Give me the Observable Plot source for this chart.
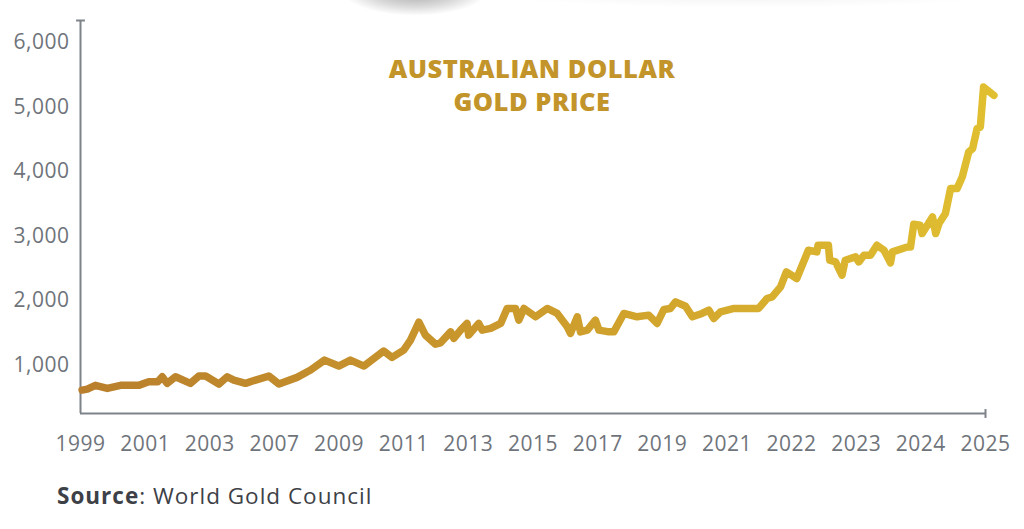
<!DOCTYPE html>
<html>
<head>
<meta charset="utf-8">
<script src="https://cdn.jsdelivr.net/npm/d3@7"></script>
<script src="https://cdn.jsdelivr.net/npm/@observablehq/plot@0.6"></script>
<style>
  body { margin: 0; background: #fff; }
  #wrap { position: relative; width: 1024px; height: 529px; overflow: hidden; font-family: "Open Sans", sans-serif; }
  #swoosh { position: absolute; left: 340px; top: -22px; width: 150px; height: 38px;
            background: radial-gradient(ellipse at 50% 30%, rgba(0,0,0,0.38), rgba(0,0,0,0.15) 45%, rgba(0,0,0,0) 70%); }
  #swoosh2 { position: absolute; left: 470px; top: -14px; width: 560px; height: 22px;
            background: radial-gradient(ellipse at 50% 20%, rgba(0,0,0,0.07), rgba(0,0,0,0) 70%); }
  #chart { position: absolute; left: 0; top: 0; }
  #caption { position: absolute; left: 57px; top: 480px; font-size: 22.5px; letter-spacing: 1px; color: #3d4147; white-space: nowrap; }
  #caption b { font-weight: 700; }
</style>
</head>
<body>
<div id="wrap">
  <div id="swoosh"></div>
  <div id="swoosh2"></div>
  <div id="chart"></div>
  <div id="caption"><b>Source</b>: World Gold Council</div>
</div>
<script>
// ---- data ----
const tickYears = [1999, 2001, 2003, 2007, 2009, 2011, 2013, 2015, 2017, 2019, 2021, 2022, 2023, 2024, 2025];
const yTicks = [1000, 2000, 3000, 4000, 5000, 6000];
const titleLines = ["AUSTRALIAN DOLLAR", "GOLD PRICE"];

const years = [
  1999.05,1999.21,1999.46,1999.83,2000.24,2000.80,2001.11,2001.39,2001.53,2001.68,
  2001.94,2002.40,2002.66,2002.87,2003.56,2004.08,2004.49,2005.21,2005.83,2006.65,
  2007.14,2007.70,2008.12,2008.55,2008.99,2009.35,2009.77,2010.38,2010.64,2011.00,
  2011.21,2011.47,2011.67,2011.98,2012.14,2012.45,2012.55,2012.76,2012.96,2013.01,
  2013.32,2013.43,2013.69,2014.00,2014.20,2014.46,2014.56,2014.72,2015.08,2015.44,
  2015.75,2016.06,2016.16,2016.37,2016.47,2016.68,2016.93,2017.04,2017.35,2017.50,
  2017.81,2018.22,2018.58,2018.84,2019.05,2019.25,2019.41,2019.72,2019.93,2020.23,
  2020.44,2020.59,2020.80,2021.11,2021.49,2021.62,2021.70,2021.83,2021.92,2022.08,
  2022.26,2022.39,2022.41,2022.57,2022.59,2022.68,2022.78,2022.83,2022.99,2023.04,
  2023.12,2023.22,2023.32,2023.43,2023.53,2023.56,2023.79,2023.84,2023.89,2023.99,
  2024.02,2024.18,2024.23,2024.28,2024.38,2024.46,2024.56,2024.64,2024.74,2024.80,
  2024.87,2024.92,2024.97,2025.13
];
const prices = [
  613,628,686,639,686,686,741,741,819,717,
  819,717,830,830,706,819,768,717,768,830,
  706,810,923,1077,985,1077,985,1217,1119,1232,
  1387,1666,1464,1325,1345,1515,1413,1542,1646,1464,
  1646,1542,1568,1646,1878,1878,1697,1878,1748,1878,
  1800,1593,1491,1748,1515,1542,1697,1542,1515,1515,
  1800,1748,1774,1646,1862,1878,1980,1913,1748,1800,
  1851,1723,1825,1878,1878,2032,2057,2212,2444,2342,
  2780,2754,2858,2858,2625,2599,2393,2625,2677,2599,
  2703,2703,2858,2780,2584,2754,2831,2831,3183,3167,
  3039,3296,3039,3194,3348,3735,3735,3915,4302,4354,
  4664,4689,5308,5180
];

// ---- build ----
const data = years.map((year, i) => ({year, price: prices[i]}));
// the axis labels are evenly spaced, so years map piecewise onto label slots
const yearToSlot = d3.scaleLinear().domain(tickYears).range(d3.range(tickYears.length));
const yMin = 250, yMax = 6340;
const axisColor = "#7e838a";

const hBar = {draw(ctx, size) { const r = Math.sqrt(size) / 2; ctx.moveTo(-r, 0); ctx.lineTo(r, 0); }};
const vBar = {draw(ctx, size) { const r = Math.sqrt(size) / 2; ctx.moveTo(0, -r); ctx.lineTo(0, r); }};

const gradientDefs = () => {
  const ns = "http://www.w3.org/2000/svg";
  const defs = document.createElementNS(ns, "defs");
  const g = document.createElementNS(ns, "linearGradient");
  g.setAttribute("id", "goldGrad");
  g.setAttribute("x1", "0"); g.setAttribute("x2", "1");
  g.setAttribute("y1", "0"); g.setAttribute("y2", "0");
  [["0%", "#B97F2C"], ["45%", "#CA982C"], ["75%", "#D7AE2E"], ["100%", "#E0BF30"]].forEach(([o, c]) => {
    const s = document.createElementNS(ns, "stop");
    s.setAttribute("offset", o); s.setAttribute("stop-color", c);
    g.appendChild(s);
  });
  defs.appendChild(g);
  return defs;
};

const titleStyle = {frameAnchor: "top", lineAnchor: "bottom", dx: -1, fontSize: 25.5, fontWeight: 800, fontFamily: "'Open Sans', sans-serif", fill: "#C2942A", textAnchor: "middle", letterSpacing: "3px"};

const chart = Plot.plot({
  width: 1024,
  height: 460,
  marginLeft: 80,
  marginRight: 39,
  marginTop: 20,
  marginBottom: 47,
  style: {fontFamily: "'Open Sans', sans-serif", fontSize: "21px", letterSpacing: "0.5px", color: "#6f747b", background: "transparent", overflow: "visible"},
  x: {domain: [0, tickYears.length - 1], ticks: d3.range(tickYears.length), tickFormat: i => String(tickYears[i]), tickSize: 0, tickPadding: 23, label: null},
  y: {domain: [yMin, yMax], ticks: yTicks, tickFormat: d3.format(","), tickSize: 0, tickPadding: 11, label: null},
  marks: [
    gradientDefs,
    Plot.ruleX([0], {y1: yMin, y2: yMax, stroke: axisColor, strokeWidth: 2}),
    Plot.ruleY([yMin], {stroke: axisColor, strokeWidth: 2}),
    Plot.dot([yMax], {x: () => 0, y: d => d, symbol: hBar, r: 5, stroke: axisColor, strokeWidth: 2, fill: "none"}),
    Plot.dot([tickYears.length - 1], {x: d => d, y: () => yMin, symbol: vBar, r: 5, stroke: axisColor, strokeWidth: 2, fill: "none"}),
    Plot.line(data, {x: d => yearToSlot(d.year), y: "price", stroke: "url(#goldGrad)", strokeWidth: 7.5, strokeLinejoin: "round", strokeLinecap: "round"}),
    Plot.text([titleLines[0]], {...titleStyle, dy: 57}),
    Plot.text([titleLines[1]], {...titleStyle, dy: 90})
  ]
});
document.getElementById("chart").appendChild(chart);
</script>
</body>
</html>
